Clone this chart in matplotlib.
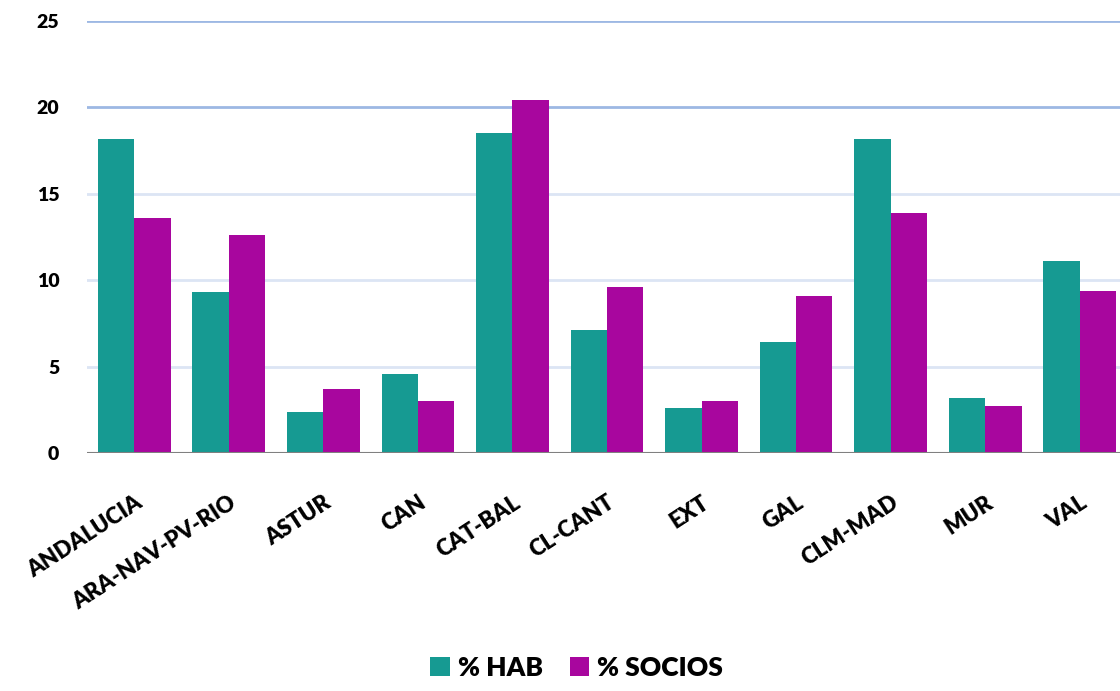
import matplotlib.pyplot as plt
import numpy as np

regiones = ['ANDALUCIA', 'ARA-NAV-PV-RIO', 'ASTUR', 'CAN', 'CAT-BAL', 'CL-CANT',
            'EXT', 'GAL', 'CLM-MAD', 'MUR', 'VAL']
pct_hab = [18.2, 9.3, 2.4, 4.6, 18.5, 7.1, 2.6, 6.4, 18.2, 3.2, 11.1]
pct_socios = [13.6, 12.6, 3.7, 3.0, 20.4, 9.6, 3.0, 9.1, 13.9, 2.7, 9.4]

plt.rcParams['font.family'] = ['Lato', 'DejaVu Sans']

fig = plt.figure(figsize=(11.2, 6.91), dpi=100)
ax = fig.add_axes([87 / 1120, 1 - 453 / 691, 1040 / 1120, 432 / 691])

x = np.arange(len(regiones))
w = 0.385
ax.bar(x - w / 2, pct_hab, w, color='#169a92', label='% HAB', zorder=2)
ax.bar(x + w / 2, pct_socios, w, color='#a8069e', label='% SOCIOS', zorder=2)

ax.set_xlim(-0.5, len(regiones) - 0.5)
ax.set_ylim(0, 25)
ax.set_yticks([0, 5, 10, 15, 20, 25])

# horizontal grid: the two upper lines are a stronger blue
for yv in [5, 10, 15]:
    ax.axhline(yv, color='#dce5f4', lw=2, zorder=1)
for yv in [20, 25]:
    ax.axhline(yv, color='#9db8e3', lw=2, zorder=1)
ax.axhline(0, color='#808080', lw=1.5, zorder=3)

for s in ax.spines.values():
    s.set_visible(False)
ax.tick_params(axis='both', length=0)
ax.tick_params(axis='y', labelsize=14, pad=20)
for t in ax.get_yticklabels():
    t.set_fontweight('heavy')

ax.set_xticks(x)
ax.set_xticklabels(regiones, rotation=33, ha='right', rotation_mode='anchor',
                   fontsize=16, fontweight='heavy')
ax.tick_params(axis='x', pad=28)

fig.legend(loc='center', bbox_to_anchor=(0.515, 1 - 668 / 691), ncol=2, frameon=False,
           prop={'size': 19, 'weight': 'heavy'}, handlelength=0.75, handleheight=0.75,
           handletextpad=0.3, columnspacing=1.0)

fig.savefig('out.png', dpi=100)
